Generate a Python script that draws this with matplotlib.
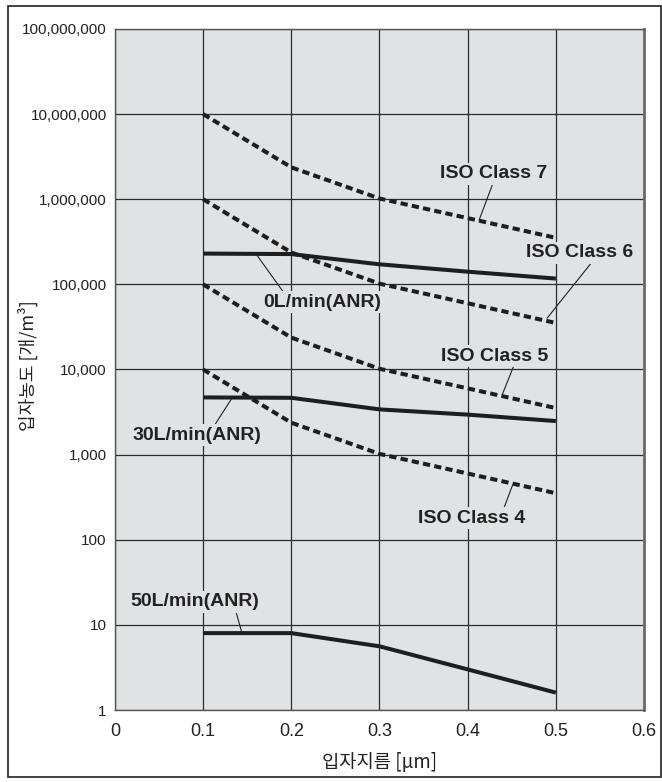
import matplotlib
matplotlib.use("Agg")
import matplotlib.pyplot as plt
from matplotlib.patches import Rectangle
from matplotlib.ticker import FixedLocator, FixedFormatter, NullLocator

# particle size [um]
sizes = [0.1, 0.2, 0.3, 0.4, 0.5]

# ISO 14644-1 class limits [particles/m3]
iso_class_7 = [10000000, 2370000, 1020000, 600000, 352000]
iso_class_6 = [1000000, 237000, 102000, 60000, 35200]
iso_class_5 = [100000, 23700, 10200, 6000, 3520]
iso_class_4 = [10000, 2370, 1020, 600, 352]

# measured concentration at each flow rate [particles/m3]
flow_0 = [230000, 227000, 172000, 141000, 117000]
flow_30 = [4700, 4650, 3400, 2950, 2480]
flow_50 = [8, 8, 5.6, 3.0, 1.6]

iso_names = ["ISO Class 7", "ISO Class 6", "ISO Class 5", "ISO Class 4"]
flow_names = ["0L/min(ANR)", "30L/min(ANR)", "50L/min(ANR)"]

x_ticks = [0, 0.1, 0.2, 0.3, 0.4, 0.5, 0.6]
x_tick_labels = ["0", "0.1", "0.2", "0.3", "0.4", "0.5", "0.6"]
y_ticks = [1, 10, 100, 1000, 10000, 100000, 1000000, 10000000, 100000000]
y_tick_labels = ["1", "10", "100", "1,000", "10,000", "100,000",
                 "1,000,000", "10,000,000", "100,000,000"]

x_label = "입자지름 [μm]"
y_label = "입자농도 [개/m³]"

BG = "#e1e2e4"
INK = "#1e1e1e"

fig = plt.figure(figsize=(6.62, 7.82), dpi=100)
fig.patch.set_facecolor("white")

# outer frame
fig.add_artist(Rectangle((8 / 662, 5 / 782), 653 / 662, 771 / 782,
                         transform=fig.transFigure, fill=False,
                         edgecolor="#333333", linewidth=1.3))

ax = fig.add_axes([115 / 662, 72 / 782, 529 / 662, 681 / 782])
ax.set_facecolor(BG)
ax.set_yscale("log")
ax.set_xlim(0, 0.6)
ax.set_ylim(1, 1e8)

ax.xaxis.set_major_locator(FixedLocator(x_ticks))
ax.xaxis.set_major_formatter(FixedFormatter(x_tick_labels))
ax.yaxis.set_major_locator(FixedLocator(y_ticks))
ax.yaxis.set_major_formatter(FixedFormatter(y_tick_labels))
ax.yaxis.set_minor_locator(NullLocator())
ax.xaxis.set_minor_locator(NullLocator())
ax.tick_params(axis="both", length=0)
ax.tick_params(axis="x", pad=9)
ax.tick_params(axis="y", pad=6)
for lab in ax.get_xticklabels():
    lab.set_fontfamily(["Liberation Sans", "DejaVu Sans"])
    lab.set_fontsize(13)
    lab.set_color("#222222")
for lab in ax.get_yticklabels():
    lab.set_fontfamily(["Liberation Sans", "DejaVu Sans"])
    lab.set_fontsize(11)
    lab.set_color("#222222")

ax.set_axisbelow(True)
ax.grid(True, which="major", color="#2b2b2b", linewidth=0.9)
for side in ["left", "bottom", "top"]:
    ax.spines[side].set_color("#555555")
    ax.spines[side].set_linewidth(1.0)
ax.spines["right"].set_color("#6a6a6a")
ax.spines["right"].set_linewidth(2.0)

dash = (0, (1.8, 1.05))
for vals in [iso_class_7, iso_class_6, iso_class_5, iso_class_4]:
    ax.plot(sizes, vals, color=INK, linewidth=2.9, linestyle=dash,
            dash_capstyle="butt", zorder=4)
for vals in [flow_0, flow_30, flow_50]:
    ax.plot(sizes, vals, color=INK, linewidth=2.9, solid_capstyle="butt",
            solid_joinstyle="round", zorder=4)

# callouts: text position, point on the curve, leader anchor on the text box
callouts = [
    (iso_names[0], (0.429, 1.98e6), (0.413, 5.7e5), (0.5, 0.0)),
    (iso_names[1], (0.527, 2.34e5), (0.490, 4.0e4), (0.62, 0.0)),
    (flow_names[0], (0.235, 6.2e4), (0.161, 2.2e5), (0.18, 1.0)),
    (iso_names[2], (0.431, 1.44e4), (0.439, 5.0e3), (0.68, 0.0)),
    (flow_names[1], (0.093, 1.70e3), (0.132, 4.5e3), (0.63, 1.0)),
    (iso_names[3], (0.404, 1.80e2), (0.451, 4.4e2), (0.80, 1.0)),
    (flow_names[2], (0.090, 18.6), (0.144, 8.0), (0.82, 0.0)),
]
for text, txy, pxy, rel in callouts:
    ax.annotate(text, xy=pxy, xytext=txy, ha="center", va="center",
                fontsize=14, fontweight="bold", color="#222222",
                fontfamily=["Liberation Sans", "DejaVu Sans"],
                bbox=dict(boxstyle="square,pad=0.12", facecolor=BG,
                          edgecolor="none"),
                arrowprops=dict(arrowstyle="-", color="#222222", linewidth=0.8,
                                relpos=rel, shrinkA=0, shrinkB=0),
                zorder=3)

fig.text(379.5 / 662, 1 - 763 / 782, x_label, ha="center", va="center",
         fontsize=13.5, color="#222222",
         fontfamily=["Noto Sans CJK KR", "DejaVu Sans"])
fig.text(28 / 662, 1 - 366 / 782, y_label, ha="center", va="center",
         rotation=90, fontsize=13, color="#222222",
         fontfamily=["Noto Sans CJK KR", "DejaVu Sans"])

fig.savefig("out.png", dpi=100, facecolor="white")
